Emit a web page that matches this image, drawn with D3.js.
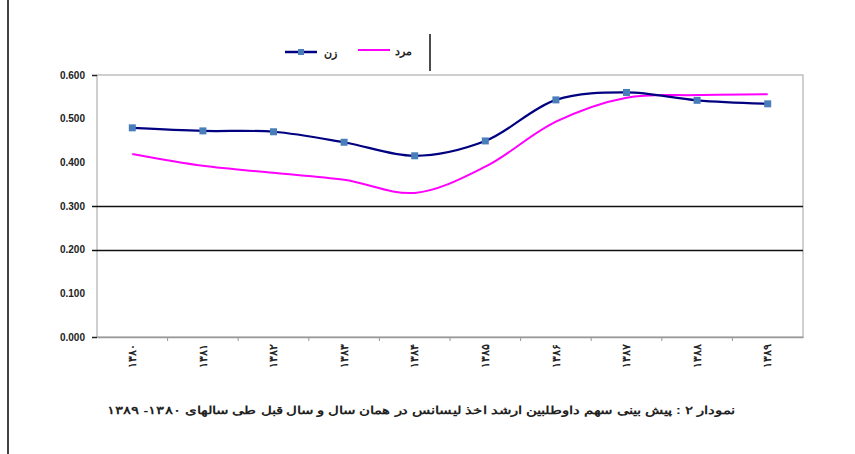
<!DOCTYPE html>
<html>
<head>
<meta charset="utf-8">
<script src="https://cdn.jsdelivr.net/npm/d3@7"></script>
<style>
  body { margin: 0; background: #fff; }
  svg { display: block; }
  text { font-family: "Liberation Sans", Arial, sans-serif; }
</style>
</head>
<body>
<div id="chart"></div>
<script>
// chart data
const years = ['۱۳۸۰', '۱۳۸۱', '۱۳۸۲', '۱۳۸۳', '۱۳۸۴', '۱۳۸۵', '۱۳۸۶', '۱۳۸۷', '۱۳۸۸', '۱۳۸۹'];
const women = [0.479, 0.472, 0.470, 0.446, 0.415, 0.449, 0.543, 0.560, 0.542, 0.534];
const men = [0.419, 0.392, 0.376, 0.360, 0.330, 0.390, 0.493, 0.548, 0.554, 0.556];
const yTicks = [0, 0.1, 0.2, 0.3, 0.4, 0.5, 0.6];
const gridTicks = [0.2, 0.3];
const seriesNames = ['زن', 'مرد'];
const caption = 'نمودار ۲ :  پیش بینی سهم داوطلبین ارشد اخذ لیسانس در همان سال و سال قبل طی سالهای ۱۳۸۰- ۱۳۸۹';

const width = 855, height = 454;
const plot = { left: 97, right: 803, top: 75, bottom: 337 };

const svg = d3.select('#chart').append('svg')
  .attr('width', width)
  .attr('height', height);

// page border on the left
svg.append('line')
  .attr('x1', 8).attr('x2', 8).attr('y1', 0).attr('y2', height)
  .attr('stroke', '#444').attr('stroke-width', 2);

const x = d3.scaleBand().domain(years).range([plot.left, plot.right]);
const y = d3.scaleLinear().domain([0, 0.6]).range([plot.bottom, plot.top]);

// plot area frame
svg.append('rect')
  .attr('x', plot.left).attr('y', plot.top)
  .attr('width', plot.right - plot.left).attr('height', plot.bottom - plot.top)
  .attr('fill', 'none').attr('stroke', '#a0a0a0').attr('stroke-width', 1);

// gridlines
svg.append('g').selectAll('line')
  .data(gridTicks)
  .enter().append('line')
  .attr('x1', plot.left - 5).attr('x2', plot.right)
  .attr('y1', d => Math.round(y(d)) + 0.5).attr('y2', d => Math.round(y(d)) + 0.5)
  .attr('stroke', '#111').attr('stroke-width', 1.3);

// y axis
const yAxis = svg.append('g')
  .attr('transform', `translate(${plot.left},0)`)
  .call(d3.axisLeft(y).tickValues(yTicks).tickFormat(d3.format('.3f')).tickSize(5).tickPadding(7));
yAxis.select('.domain').remove();
yAxis.selectAll('.tick line')
  .attr('stroke', '#222')
  .attr('stroke-width', 1.5)
  .style('opacity', d => (d === 0 || d === 0.6) ? 1 : 0);
yAxis.selectAll('.tick text')
  .attr('font-size', 10)
  .attr('font-weight', 'bold')
  .attr('fill', '#222');

// x axis
const xAxis = svg.append('g')
  .attr('transform', `translate(0,${plot.bottom})`)
  .call(d3.axisBottom(x).tickSize(0));
xAxis.select('.domain').attr('stroke', '#999').attr('stroke-width', 1.5);
xAxis.selectAll('.tick text')
  .attr('font-size', 10.5)
  .attr('font-weight', 'bold')
  .attr('fill', '#222')
  .attr('text-anchor', 'end')
  .attr('dy', '0.35em')
  .attr('transform', 'translate(0,7) rotate(-90)')
  .attr('x', 0).attr('y', 0);

// small ticks between categories
svg.append('g').selectAll('line')
  .data(years.slice(1))
  .enter().append('line')
  .attr('x1', d => x(d)).attr('x2', d => x(d))
  .attr('y1', plot.bottom).attr('y2', plot.bottom + 4)
  .attr('stroke', '#999');

// lines
const line = d3.line()
  .x((d, i) => x(years[i]) + x.bandwidth() / 2)
  .y(d => y(d))
  .curve(d3.curveCatmullRom.alpha(0.5));

svg.append('path')
  .datum(men)
  .attr('d', line)
  .attr('fill', 'none')
  .attr('stroke', '#ff00ff')
  .attr('stroke-width', 2);

svg.append('path')
  .datum(women)
  .attr('d', line)
  .attr('fill', 'none')
  .attr('stroke', '#000080')
  .attr('stroke-width', 2.2);

svg.append('g').selectAll('rect')
  .data(women)
  .enter().append('rect')
  .attr('x', (d, i) => x(years[i]) + x.bandwidth() / 2 - 3.5)
  .attr('y', d => y(d) - 3.5)
  .attr('width', 7).attr('height', 7)
  .attr('fill', '#4a7ebb');

// legend
const legend = svg.append('g');
legend.append('line')
  .attr('x1', 285).attr('x2', 317).attr('y1', 52).attr('y2', 52)
  .attr('stroke', '#000080').attr('stroke-width', 2.5);
legend.append('rect')
  .attr('x', 298).attr('y', 49).attr('width', 6).attr('height', 6)
  .attr('fill', '#4a7ebb');
legend.append('text')
  .attr('x', 337).attr('y', 57)
  .attr('text-anchor', 'end')
  .attr('font-size', 11).attr('font-weight', 'bold').attr('fill', '#222')
  .text(seriesNames[0]);
legend.append('line')
  .attr('x1', 358).attr('x2', 390).attr('y1', 50).attr('y2', 50)
  .attr('stroke', '#ff00ff').attr('stroke-width', 2);
legend.append('text')
  .attr('x', 412).attr('y', 55)
  .attr('text-anchor', 'end')
  .attr('font-size', 11).attr('font-weight', 'bold').attr('fill', '#222')
  .text(seriesNames[1]);
legend.append('line')
  .attr('x1', 430).attr('x2', 430).attr('y1', 34).attr('y2', 71)
  .attr('stroke', '#111').attr('stroke-width', 1.5);

// caption (stretched to the width it has in the original)
svg.append('text')
  .attr('x', 735).attr('y', 414)
  .attr('direction', 'rtl')
  .attr('text-anchor', 'start')
  .attr('textLength', 628)
  .attr('lengthAdjust', 'spacingAndGlyphs')
  .attr('font-size', 10.5).attr('font-weight', 'bold').attr('fill', '#222')
  .text(caption);
</script>
</body>
</html>
